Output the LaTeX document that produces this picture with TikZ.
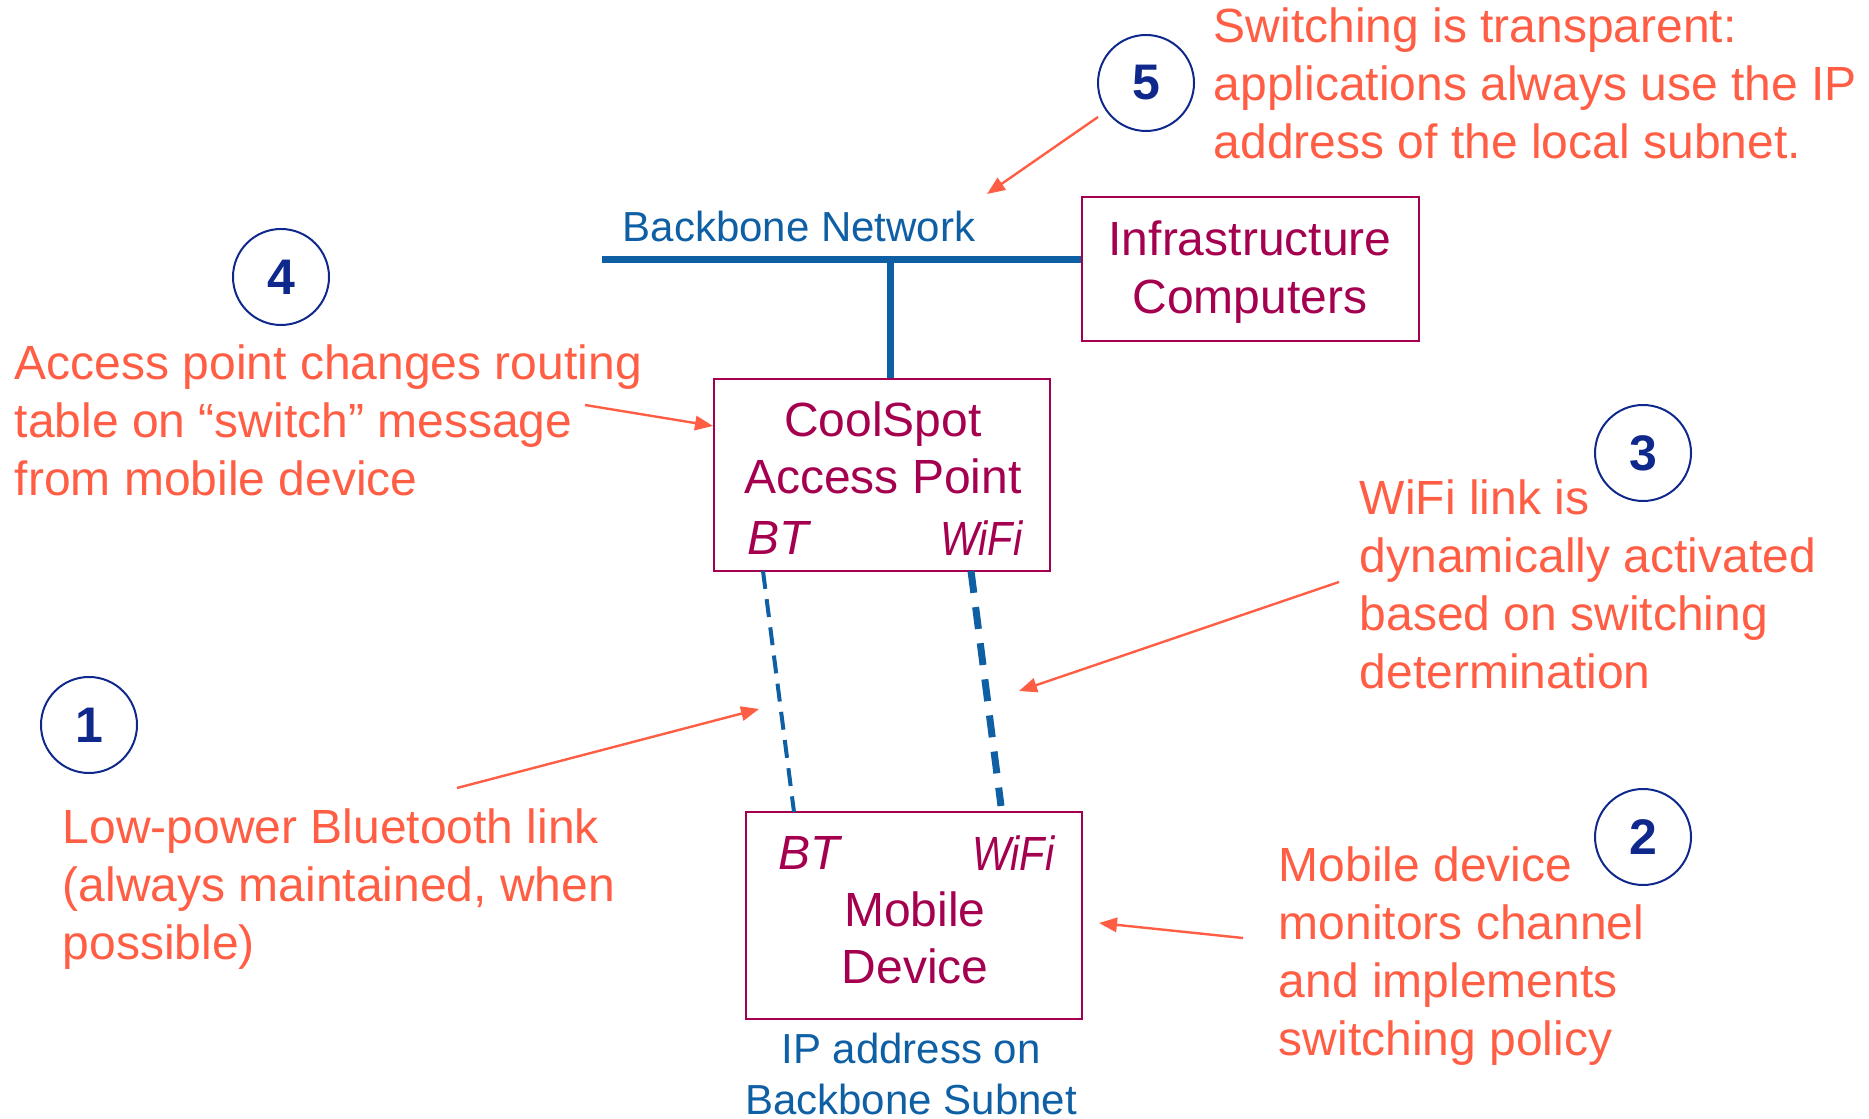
\documentclass[tikz,border=0pt]{standalone}
\usepackage{fontspec}
\setmainfont{Liberation Sans}
\usetikzlibrary{arrows.meta}
\definecolor{bbblue}{HTML}{0F5FA5}
\definecolor{berry}{HTML}{A50050}
\definecolor{noteorange}{HTML}{FF5E45}
\definecolor{navy}{HTML}{0F288C}
\newcommand{\wifiword}{\scalebox{0.86}[1]{WiFi}}
\begin{document}
\begin{tikzpicture}[x=0.25pt,y=-0.25pt,
  box/.style={draw=berry, line width=0.6pt, inner sep=0pt},
  boxtext/.style={text=berry, inner sep=0pt, font=\fontsize{12}{14.4}\selectfont},
  boxit/.style={text=berry, inner sep=0pt, font=\itshape\fontsize{12}{14.4}\selectfont},
  note/.style={text=noteorange, inner sep=0pt, align=left, anchor=west, font=\fontsize{12}{14.5}\selectfont},
  bluetext/.style={text=bbblue, inner sep=0pt, font=\fontsize{10.5}{12.75}\selectfont},
  num/.style={circle, draw=navy, line width=0.5pt, minimum size=24pt, inner sep=0pt, text=navy, font=\bfseries\fontsize{12.5}{15}\selectfont},
  callout/.style={draw=noteorange, line width=0.6pt, -{Triangle[length=4.5pt,width=3.6pt]}},
  bus/.style={draw=bbblue, line width=1.75pt},
  btlink/.style={draw=bbblue, line width=1pt, dash pattern=on 4.5pt off 2.6pt},
  wifilink/.style={draw=bbblue, line width=1.75pt, dash pattern=on 5.5pt off 3.6pt}]
\useasboundingbox (0,0) rectangle (1869,1119);

% boxes
\node[box, minimum width=84.25pt, minimum height=36pt] (infra) at (1250.5,269) {};
\node[boxtext, align=center] (infratxt) at (1250,272) {Infrastructure\\Computers};

\node[box, minimum width=84pt, minimum height=48pt] (cool) at (882,475) {};
\node[boxtext, align=center] (cooltxt) at (883,448) {CoolSpot\\Access Point};
\node[boxit, anchor=west] (coolbt) at (747,538) {BT};
\node[boxit, anchor=east] (coolwifi) at (1023,538) {\wifiword};

\node[box, minimum width=84pt, minimum height=51.75pt] (mobile) at (914,915.5) {};
\node[boxit, anchor=west] (mobbt) at (778,853) {BT};
\node[boxit, anchor=east] (mobwifi) at (1055,853) {\wifiword};
\node[boxtext, align=center] (mobtxt) at (915,938) {Mobile\\Device};

% blue labels
\node[bluetext, anchor=west] (bbtxt) at (622,227) {Backbone Network};
\node[bluetext, align=center] (iptxt) at (911,1074) {IP address on\\Backbone Subnet};

% backbone bus
\coordinate (bbL) at (602,260);
\coordinate (stub) at (890,260);
\draw[bus] (bbL) -- (infra.west |- bbL);
\draw[bus] (stub) -- (stub |- cool.north);

% wireless links
\coordinate (apbt) at (763,571);
\coordinate (mdbt) at (794,812);
\coordinate (apwifi) at (971,571);
\coordinate (mdwifi) at (1001,806);
\draw[btlink] (apbt) -- (mdbt);
\draw[wifilink] (apwifi) -- (mdwifi);

% numbered circles
\node[num] (n1) at (89,725) {1};
\node[num] (n2) at (1643,837) {2};
\node[num] (n3) at (1643,453) {3};
\node[num] (n4) at (281,277) {4};
\node[num] (n5) at (1146,83) {5};

% notes
\node[note] (t5) at (1213,83) {Switching is transparent:\\applications always use the IP\\address of the local subnet.};
\node[note] (t4) at (14,420) {Access point changes routing\\table on \textquotedblleft switch\textquotedblright\ message\\from mobile device};
\node[note] (t3) at (1359,584) {WiFi link is\\dynamically activated\\based on switching\\determination};
\node[note] (t1) at (62,889) {Low-power Bluetooth link\\(always maintained, when\\possible)};
\node[note] (t2) at (1278,956) {Mobile device\\monitors channel\\and implements\\switching policy};

% callout arrows
\coordinate (a5s) at (1098,117); \coordinate (a5e) at (987,194);
\coordinate (a4s) at (585,405);  \coordinate (a4e) at (713,426);
\coordinate (a3s) at (1339,582); \coordinate (a3e) at (1019,691);
\coordinate (a1s) at (457,788);  \coordinate (a1e) at (759,709);
\coordinate (a2s) at (1243,938); \coordinate (a2e) at (1099,923);
\draw[callout] (a5s) -- (a5e);
\draw[callout] (a4s) -- (a4e);
\draw[callout] (a3s) -- (a3e);
\draw[callout] (a1s) -- (a1e);
\draw[callout] (a2s) -- (a2e);
\end{tikzpicture}
\end{document}
